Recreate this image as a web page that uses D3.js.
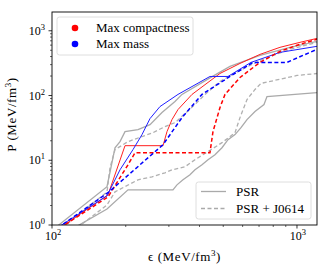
<!DOCTYPE html>
<html lang="en">
<head>
<meta charset="UTF-8">
<title>EoS</title>
<script src="https://cdn.jsdelivr.net/npm/d3@7"></script>
<style>
    body { margin: 0; background: white; }
    svg { font-family: "Liberation Serif", "DejaVu Serif", serif; }
</style>
</head>
<body>
<div id="chart"></div>
<script>
    // energy density (MeV/fm^3) , pressure (MeV/fm^3)
    const redSolid = [[107.8, 0.9], [169.3, 2.92], [198.6, 16.8], [283.9, 16.8], [294.7, 27.7], [308.9, 42.5],
        [326.8, 60.7], [372.8, 104], [485.0, 219], [585.3, 313], [706.3, 432], [852.2, 555], [1028.6, 663], [1206.6, 762]];
    const redDashed = [[107.8, 0.9], [169.3, 2.72], [204.3, 8.52], [218.2, 13.1], [441.4, 13.1], [454.0, 27.7],
        [485.0, 65.2], [508.4, 104], [585.3, 190], [706.3, 325], [852.2, 481], [1028.6, 618], [1206.6, 738]];
    const blueSolid = [[104.8, 0.9], [167.7, 2.82], [189.5, 7.12], [214.1, 14.6], [233.0, 24.9], [251.2, 44.0],
        [275.9, 67.5], [326.8, 104], [441.4, 197], [522.9, 197], [649.0, 325], [852.2, 464], [1206.6, 575]];
    const blueDashed = [[105.8, 0.9], [170.9, 3.25], [283.9, 17.4], [339.3, 45.6], [409.5, 104], [532.8, 197],
        [661.4, 325], [910.2, 325], [1206.6, 517]];
    const psrUpper = [[102.9, 0.9], [167.7, 3.9], [180.8, 15.6], [189.5, 19.4], [198.6, 27.7], [224.4, 29.7],
        [251.2, 35.5], [281.2, 54.5], [317.7, 80.7], [339.3, 104], [441.4, 187], [532.8, 282], [706.3, 417],
        [936.3, 555], [1206.6, 687]];
    const psrLower = [[123.0, 0.9], [167.7, 1.77], [204.3, 3.49], [311.7, 3.49], [323.7, 4.17], [342.5, 4.99],
        [365.8, 5.96], [383.4, 7.12], [409.5, 8.52], [433.3, 10.2], [462.7, 12.2], [494.1, 15.6], [522.9, 20.8],
        [558.5, 24.9], [590.8, 31.9], [625.1, 42.5], [673.9, 56.5], [733.4, 72.5], [754.3, 96.5], [1206.6, 111]];
    const j0614Upper = [[109.9, 0.9], [167.7, 3.25], [172.5, 7.65], [180.8, 14.6], [204.3, 19.4], [258.4, 26.7],
        [289.2, 33.1], [317.7, 38.1], [383.4, 72.5], [421.2, 104], [485.0, 165], [585.3, 244], [706.3, 349],
        [936.3, 517], [1206.6, 663]];
    const j0614Lower = [[126.5, 0.9], [167.7, 2.04], [180.8, 3.25], [224.4, 4.99], [256.0, 5.55], [289.2, 6.40],
        [308.9, 7.12], [349.1, 7.93], [383.4, 10.2], [433.3, 13.6], [494.1, 18.7], [558.5, 26.7], [585.3, 45.6],
        [625.1, 86.7], [673.9, 124], [713.0, 154], [884.9, 184], [1000, 204], [1206.6, 219]];

    const xTicks = [100, 1000];
    const yTicks = [1, 10, 100, 1000];

    const width = 329, height = 274;
    const margin = { top: 12, right: 12, bottom: 49, left: 52 };
    const w = width - margin.left - margin.right;
    const h = height - margin.top - margin.bottom;

    const x = d3.scaleLog().domain([100, 1207]).range([0, w]);
    const y = d3.scaleLog().domain([1, 1950]).range([h, 0]);

    const svg = d3.select("#chart").append("svg")
        .attr("width", width)
        .attr("height", height);

    svg.append("defs").append("clipPath").attr("id", "clip")
        .append("rect").attr("width", w).attr("height", h);

    const g = svg.append("g").attr("transform", `translate(${margin.left},${margin.top})`);

    const line = d3.line().x(d => x(d[0])).y(d => y(d[1]));

    const plot = g.append("g").attr("clip-path", "url(#clip)");

    const series = [
        { data: psrLower, color: "#aaaaaa", dash: null, sw: 1.3 },
        { data: j0614Lower, color: "#b0b0b0", dash: "4,2.5", sw: 1.3 },
        { data: psrUpper, color: "#aaaaaa", dash: null, sw: 1.3 },
        { data: j0614Upper, color: "#b0b0b0", dash: "4,2.5", sw: 1.3 },
        { data: redSolid, color: "#ff2020", dash: null, sw: 1 },
        { data: blueSolid, color: "#2020ff", dash: null, sw: 1 },
        { data: redDashed, color: "#ff0000", dash: "4,2.5", sw: 1.5 },
        { data: blueDashed, color: "#0000ff", dash: "4,2.5", sw: 1.5 }
    ];

    plot.selectAll("path.curve")
        .data(series)
        .join("path")
        .attr("class", "curve")
        .attr("d", d => line(d.data))
        .attr("fill", "none")
        .attr("stroke", d => d.color)
        .attr("stroke-width", d => d.sw)
        .attr("stroke-dasharray", d => d.dash);

    // minor ticks
    const xMinor = [];
    for (let v = 200; v <= 900; v += 100) xMinor.push(v);
    const yMinor = [];
    for (let p = 0; p < 4; p++)
        for (let k = 2; k <= 9; k++)
            if (k * 10 ** p < 1950) yMinor.push(k * 10 ** p);

    g.selectAll("line.xminor").data(xMinor).join("line")
        .attr("x1", d => x(d)).attr("x2", d => x(d))
        .attr("y1", h).attr("y2", h + 2)
        .attr("stroke", "black").attr("stroke-width", 0.6);
    g.selectAll("line.yminor").data(yMinor).join("line")
        .attr("y1", d => y(d)).attr("y2", d => y(d))
        .attr("x1", 0).attr("x2", -2)
        .attr("stroke", "black").attr("stroke-width", 0.6);

    g.selectAll("line.xmajor").data(xTicks).join("line")
        .attr("x1", d => x(d)).attr("x2", d => x(d))
        .attr("y1", h).attr("y2", h + 3.5)
        .attr("stroke", "black").attr("stroke-width", 0.8);
    g.selectAll("line.ymajor").data(yTicks).join("line")
        .attr("y1", d => y(d)).attr("y2", d => y(d))
        .attr("x1", 0).attr("x2", -3.5)
        .attr("stroke", "black").attr("stroke-width", 0.8);

    const fs = 12, lfs = 13;
    function powLabel(sel, d) {
        const e = Math.round(Math.log10(d));
        sel.append("tspan").text("10");
        sel.append("tspan").attr("dy", -5).attr("font-size", 8.5).text(e);
    }

    g.selectAll("text.xt").data(xTicks).join("text")
        .attr("x", d => x(d) + 1).attr("y", h + 15)
        .attr("text-anchor", "middle").attr("font-size", fs)
        .each(function (d) { powLabel(d3.select(this), d); });
    g.selectAll("text.yt").data(yTicks).join("text")
        .attr("x", -7).attr("y", d => y(d) + 4)
        .attr("text-anchor", "end").attr("font-size", fs)
        .each(function (d) { powLabel(d3.select(this), d); });

    // frame
    g.append("rect").attr("width", w).attr("height", h)
        .attr("fill", "none").attr("stroke", "black").attr("stroke-width", 0.9);

    // axis labels
    const xl = g.append("text").attr("x", w / 2).attr("y", h + 36)
        .attr("text-anchor", "middle").attr("font-size", lfs).attr("letter-spacing", 0.6);
    xl.append("tspan").text("\u03f5 (MeV/fm");
    xl.append("tspan").attr("dy", -5).attr("font-size", 9).text("3");
    xl.append("tspan").attr("dy", 5).text(")");

    const yl = g.append("text").attr("transform", `translate(${-36},${h / 2 - 4}) rotate(-90)`)
        .attr("text-anchor", "middle").attr("font-size", lfs).attr("letter-spacing", 0.6);
    yl.append("tspan").text("P (MeV/fm");
    yl.append("tspan").attr("dy", -5).attr("font-size", 9).text("3");
    yl.append("tspan").attr("dy", 5).text(")");

    // legend: markers
    const leg1 = g.append("g").attr("transform", "translate(5,5)");
    leg1.append("rect").attr("width", 136).attr("height", 38).attr("rx", 2.5)
        .attr("fill", "white").attr("fill-opacity", 0.8).attr("stroke", "#d6d6d6").attr("stroke-width", 0.8);
    const markers = [{ label: "Max compactness", color: "red" }, { label: "Max mass", color: "blue" }];
    const m = leg1.selectAll("g").data(markers).join("g")
        .attr("transform", (d, i) => `translate(0,${11 + i * 16})`);
    m.append("circle").attr("cx", 18).attr("cy", 0).attr("r", 3.3).attr("fill", d => d.color);
    m.append("text").attr("x", 39).attr("y", 4).attr("font-size", lfs).text(d => d.label);

    // legend: lines
    const leg2 = g.append("g").attr("transform", `translate(${w - 121},${h - 43})`);
    leg2.append("rect").attr("width", 115).attr("height", 37).attr("rx", 2.5)
        .attr("fill", "white").attr("fill-opacity", 0.8).attr("stroke", "#d6d6d6").attr("stroke-width", 0.8);
    const lines = [{ label: "PSR", dash: null }, { label: "PSR + J0614", dash: "4,2.5" }];
    const l = leg2.selectAll("g").data(lines).join("g")
        .attr("transform", (d, i) => `translate(0,${9.5 + i * 17})`);
    l.append("line").attr("x1", 5).attr("x2", 30).attr("y1", 0).attr("y2", 0)
        .attr("stroke", "#aaaaaa").attr("stroke-width", 1.3).attr("stroke-dasharray", d => d.dash);
    l.append("text").attr("x", 40).attr("y", 4).attr("font-size", lfs).text(d => d.label);
</script>
</body>
</html>
